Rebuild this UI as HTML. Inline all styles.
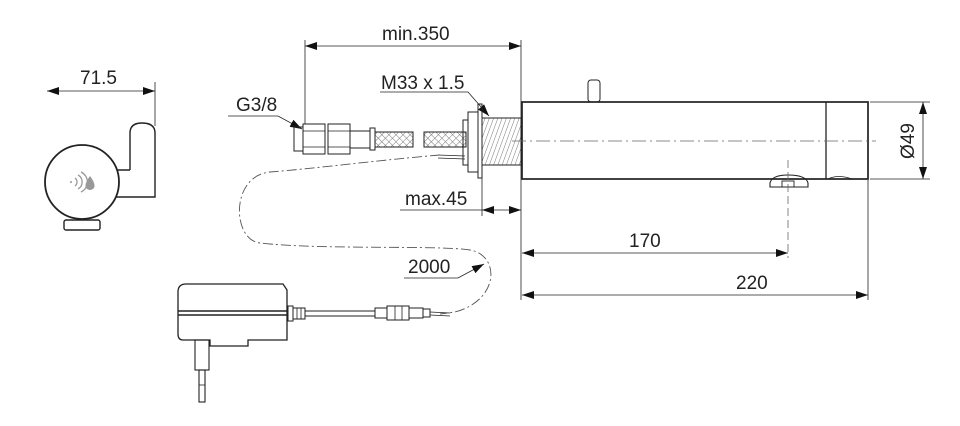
<!DOCTYPE html>
<html><head><meta charset="utf-8"><style>
html,body{margin:0;padding:0;background:#fff;}
svg{display:block;}
text{font-family:"Liberation Sans",sans-serif;font-size:19px;fill:#222;}
</style></head><body>
<svg width="960" height="426" viewBox="0 0 960 426" xmlns="http://www.w3.org/2000/svg">
<defs>
<marker id="a" markerWidth="12" markerHeight="8" refX="12" refY="4" orient="auto-start-reverse" markerUnits="userSpaceOnUse"><path d="M0,0 L12,4 L0,8 Z" fill="#111"/></marker>
<pattern id="hatch" width="5" height="5" patternUnits="userSpaceOnUse" patternTransform="rotate(45)"><line x1="0" y1="0" x2="0" y2="5" stroke="#777" stroke-width="1"/><line x1="0" y1="0" x2="5" y2="0" stroke="#777" stroke-width="1"/></pattern>
<pattern id="thr" width="4" height="10" patternUnits="userSpaceOnUse" patternTransform="rotate(20)"><line x1="0" y1="0" x2="0" y2="10" stroke="#555" stroke-width="0.8"/></pattern>
</defs>
<g fill="none" stroke="#222" stroke-width="1.4">
<!-- left view -->
<line x1="155" y1="82" x2="155" y2="126" stroke-width="0.8"/>
<line x1="47" y1="91" x2="155" y2="91" stroke-width="0.8" marker-start="url(#a)" marker-end="url(#a)"/>
<path d="M130,170 L130,133 Q130,123 142,123 Q155,123 155,133 L155,197 L110,197"/>
<path d="M110,170 L130,170"/>
<rect x="64" y="220" width="36" height="10" rx="2"/>
<circle cx="82" cy="182" r="37" stroke-width="1.8" fill="#fff"/>
<g stroke="#999" stroke-width="1.3">
<path d="M75,178 a5,5 0 0 1 0,8"/><path d="M78,175 a8,8 0 0 1 0,14"/><path d="M81,172 a11,11 0 0 1 0,20"/>
</g>
<path d="M90,176 Q84,184 86,188 Q90,192 94,188 Q96,184 90,176 Z" fill="#999" stroke="none"/>
<circle cx="71" cy="182" r="1" fill="#999" stroke="none"/>
<!-- min.350 -->
<line x1="305" y1="40" x2="305" y2="124" stroke-width="0.8"/>
<line x1="521" y1="40" x2="521" y2="300" stroke-width="0.8"/>
<line x1="305" y1="46" x2="521" y2="46" stroke-width="0.8" marker-start="url(#a)" marker-end="url(#a)"/>
<polyline points="228,116 278,116 302,129" stroke-width="0.8" marker-end="url(#a)"/>
<polyline points="380,92 468,92 489,116" stroke-width="0.8" marker-end="url(#a)"/>
<!-- fittings -->
<rect x="294" y="127" width="9" height="24" stroke-width="1"/>
<rect x="303" y="124" width="22" height="30" stroke-width="1"/>
<line x1="303" y1="131" x2="325" y2="131" stroke-width="0.7"/><line x1="303" y1="147" x2="325" y2="147" stroke-width="0.7"/>
<rect x="328" y="124" width="22" height="30" stroke-width="1"/>
<line x1="328" y1="131" x2="350" y2="131" stroke-width="0.7"/><line x1="328" y1="147" x2="350" y2="147" stroke-width="0.7"/>
<rect x="350" y="131" width="20" height="17" stroke-width="1"/>
<rect x="370" y="128" width="5" height="22" stroke-width="1"/>
<rect x="375" y="132" width="38" height="15" fill="url(#hatch)" stroke-width="1"/>
<rect x="424" y="132" width="42" height="15" fill="url(#hatch)" stroke-width="1"/>
<line x1="438" y1="155" x2="465" y2="156" stroke-width="0.8"/>
<line x1="438" y1="158" x2="465" y2="159" stroke-width="0.8"/>
<rect x="463" y="120" width="5" height="45" stroke-width="1"/>
<rect x="468" y="112" width="10" height="60" stroke-width="1"/>
<rect x="478" y="104" width="4" height="74" stroke-width="1"/>
<rect x="482" y="118" width="39" height="47" fill="url(#thr)" stroke-width="1"/>
<!-- max.45 -->
<line x1="482" y1="178" x2="482" y2="216" stroke-width="0.8"/>
<polyline points="400,210 482,210" stroke-width="0.8"/>
<line x1="482" y1="210" x2="521" y2="210" stroke-width="0.8" marker-start="url(#a)" marker-end="url(#a)"/>
<!-- spout body -->
<rect x="588" y="80" width="12" height="22" rx="3" stroke-width="1"/>
<rect x="522" y="102" width="346" height="77" stroke-width="1.7"/>
<line x1="826" y1="102" x2="826" y2="179" stroke-width="1.3"/>
<path d="M770,187 L770,183 Q772,175 788,175 Q806,175 808,183 L808,187 Z" stroke-width="1.1"/>
<rect x="782" y="181" width="12" height="6" stroke-width="0.9"/>
<path d="M828,179 Q838,174 852,179" stroke-width="0.8"/>
<line x1="512" y1="141" x2="876" y2="141" stroke="#666" stroke-width="0.8" stroke-dasharray="14,4,2,4"/>
<line x1="788" y1="160" x2="788" y2="258" stroke="#666" stroke-width="0.8" stroke-dasharray="8,4"/>
<!-- Ø49 -->
<line x1="870" y1="102" x2="930" y2="102" stroke-width="0.8"/>
<line x1="870" y1="179" x2="930" y2="179" stroke-width="0.8"/>
<line x1="923" y1="102" x2="923" y2="179" stroke-width="0.8" marker-start="url(#a)" marker-end="url(#a)"/>
<!-- 170 / 220 -->
<line x1="868" y1="180" x2="868" y2="300" stroke-width="0.8"/>
<line x1="522" y1="253" x2="788" y2="253" stroke-width="0.8" marker-start="url(#a)" marker-end="url(#a)"/>
<line x1="522" y1="295" x2="868" y2="295" stroke-width="0.8" marker-start="url(#a)" marker-end="url(#a)"/>
<!-- cable dashed -->
<path d="M440,155 C380,160 320,168 270,172 C230,176 232,240 260,243 C320,250 440,245 470,250 C500,255 500,300 455,312 L440,314" stroke="#555" stroke-width="0.9" stroke-dasharray="10,3,2,3"/>
<polyline points="404,278 458,278 484,264" stroke-width="0.8" marker-end="url(#a)"/>
<!-- power supply -->
<path d="M178,292 Q178,284 186,284 L283,284 L287,290 L287,340 L248,340 L248,346 L210,346 L210,340 L183,340 Q178,340 178,334 Z" stroke-width="1.3"/>
<line x1="178" y1="311" x2="288" y2="311"/><line x1="178" y1="315" x2="288" y2="315"/>
<rect x="288" y="306" width="5" height="15" stroke-width="1"/>
<rect x="293" y="308" width="12" height="11" stroke-width="1"/>
<line x1="297" y1="308" x2="297" y2="319" stroke-width="0.8"/><line x1="301" y1="308" x2="301" y2="319" stroke-width="0.8"/>
<line x1="305" y1="311" x2="375" y2="311" stroke-width="1"/><line x1="305" y1="316" x2="375" y2="316" stroke-width="1"/>
<rect x="375" y="308" width="12" height="10" stroke-width="1"/>
<rect x="387" y="306" width="22" height="14" stroke-width="1"/>
<line x1="395" y1="306" x2="395" y2="320" stroke-width="0.8"/><line x1="402" y1="306" x2="402" y2="320" stroke-width="0.8"/>
<rect x="409" y="308" width="14" height="10" stroke-width="1"/>
<rect x="423" y="309" width="7" height="8" stroke-width="1"/>
<line x1="430" y1="312" x2="450" y2="313" stroke-width="0.8"/><line x1="430" y1="315" x2="450" y2="316" stroke-width="0.8"/>
<rect x="195" y="340" width="14" height="30" stroke-width="1.1"/>
<rect x="199" y="370" width="6" height="32" stroke-width="1.1"/>
<line x1="199" y1="385" x2="205" y2="385" stroke-width="0.8"/>
</g>
<text x="80" y="84">71.5</text>
<text x="382" y="40">min.350</text>
<text x="236" y="111">G3/8</text>
<text x="381" y="89">M33 x 1.5</text>
<text x="405" y="205">max.45</text>
<text x="629" y="247">170</text>
<text x="736" y="289">220</text>
<text x="408" y="273">2000</text>
<text transform="translate(914,141) rotate(-90)" text-anchor="middle">Ø49</text>
</svg>
</body></html>
